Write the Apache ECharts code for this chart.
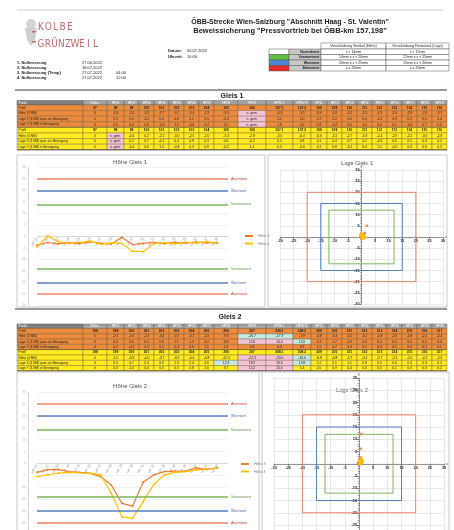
<!DOCTYPE html>
<html><head><meta charset="utf-8">
<script src="https://cdn.jsdelivr.net/npm/echarts@6/dist/echarts.min.js"></script>
<style>html,body{margin:0;padding:0;background:#fff}#c{width:454px;height:530px}</style>
</head><body><div id="c"></div>
<script>
// ================= DATA =================
const nullmessungen = [
  ['1. Nullmessung', '27.06.2022', ''],
  ['2. Nullmessung', '18.07.2022', ''],
  ['3. Nullmessung (Temp)', '27.07.2022', '04:00'],
  ['4. Nullmessung', '27.07.2022', '12:00']
];
const limitNames = ['Vorwarnwert', 'Warnwert', 'Alarmwert'];
const hoeheLimits = [14, 20, 25];
const lageLimits = [12, 15, 20];
const legendRowNames = ['Normalwert', 'Vorwarnwert', 'Warnwert', 'Alarmwert'];
const legendHoehe = ['x < 14mm', '14mm ≤ x < 20mm', '20mm ≤ x < 25mm', 'x ≥ 25mm'];
const legendLage = ['x < 12mm', '12mm ≤ x < 15mm', '15mm ≤ x < 20mm', 'x ≥ 20mm'];

// table Gleis 1
const g1Head = ['Nullm.','HP01','HP02','HP03','HP04','HP05','HP06','HP07','HP08','HP09','HP10 L','HP10 R','HP11','HP12','HP13','HP14','HP15','HP16','HP17','HP18','HP19'];
const g1Profil = ['97','98','99','100','101','102','103','104','105','106','107.1','107.2','108','109','110','111','112','113','114','115','116'];
const g1HoeheA = ['0','-3.8','-2.6','-3.2','-2.7','-3.1','-2.4','-2.9','-3.3','n. gem.','-0.3','-3.5','-3.0','-2.6','-3.1','-2.5','-2.9','-2.4','-2.8','-2.6','-2.7'];
const g1LageXA = ['0','0.3','0.6','-0.2','0.4','0.8','0.1','0.5','-0.3','n. gem.','1.2','2.0','0.7','0.2','0.6','0.4','-0.1','0.9','0.3','0.5','0.4'];
const g1LageYA = ['0','0.5','0.2','0.8','-0.3','1.2','-0.6','0.4','0.2','n. gem.','1.8','5.0','0.9','-0.2','0.6','1.0','0.3','0.1','-0.4','0.7','0.5'];
const g1HoeheB = ['0','n. gem.','-4.6','0.2','-2.2','-3.0','-2.5','-2.0','-3.4','-2.8','-3.0','-6.4','-6.6','-3.2','-2.7','-3.3','-2.4','-2.9','-2.2','-3.0','-2.8'];
const g1LageXB = ['0','n. gem.','0.2','0.7','-0.1','0.4','0.9','0.3','0.6','-0.2','0.5','0.8','0.1','0.4','0.7','0.2','-0.3','0.6','0.5','0.3','0.2'];
const g1LageYB = ['0','n. gem.','-0.4','0.6','1.0','-0.8','0.3','0.9','-0.2','1.4','0.5','-0.6','0.2','0.8','-0.1','0.4','1.1','-0.5','0.3','0.6','0.2'];

// table Gleis 2
const g2Head = ['Nullm.','HP21','HP22','HP23','HP24','HP25','HP26','HP27','HP28','HP29','HP30 L','HP30 R','HP31','HP32','HP33','HP34','HP35','HP36','HP37','HP38','HP39'];
const g2Profil = ['198','199','200','201','202','203','204','205','206','207','208.1','208.2','209','210','211','212','213','214','215','216','217'];
const g2HoeheA = ['0','-3.7','-2.6','-2.5','-3.4','-3.7','-4.1','-5.5','-9.0','-16.7','-17.9','-7.9','-4.8','-3.4','-3.2','-3.2','-1.8','-2.5','-1.8','-2.1','-2.4'];
const g2LageXA = ['0','0.4','0.6','0.3','0.8','1.1','1.9','3.2','6.8','15.8','16.4','12.6','4.1','1.7','0.9','0.6','0.4','0.5','0.3','0.2','0.4'];
const g2LageYA = ['0','0.2','-0.1','0.3','0.2','0.4','0.6','1.1','2.4','5.8','6.3','3.9','1.5','0.7','0.3','0.2','0.4','0.1','0.3','0.2','0.1'];
const g2HoeheB = ['0','-5.5','-4.8','-4.0','-3.7','-3.9','-4.0','-4.8','-12.5','-22.3','-23.0','-16.0','-8.8','-4.8','-3.7','-3.4','-2.7','-2.3','-2.0','-2.2','-2.6'];
const g2LageXB = ['0','0.5','0.7','0.4','0.9','1.3','2.4','4.6','12.3','18.9','19.4','13.8','5.2','2.1','1.1','0.8','0.5','0.6','0.4','0.3','0.5'];
const g2LageYB = ['0','0.3','-0.2','0.4','0.3','0.5','0.8','1.6','3.7','15.2','15.6','5.4','2.0','0.9','0.4','0.3','0.5','0.2','0.4','0.3','0.2'];

// charts
const pointsGleis1 = ['HP 01','HP 02','HP 03','HP 04','HP 05','HP 06','HP 07','HP 08','HP 09','HP 10','HP 11','HP 12','HP 13','HP 14','HP 15','HP 16','HP 17','HP 18',''];
const pointsGleis2 = ['HP 21','HP 22','HP 23','HP 24','HP 25','HP 26','HP 27','HP 28','HP 29','HP 30','HP 31','HP 32','HP 33','HP 34','HP 35','HP 36','HP 37','HP 38',''];
const hoehe3Gleis1 = [-3.8,-2.6,-3.2,-2.7,-3.1,-2.4,-2.9,-3.3,-0.3,-3.5,-3.0,-2.6,-3.1,-2.5,-2.9,-2.4,-2.8,-2.6];
const hoehe4Gleis1 = [-4.6,0.2,-2.2,-3.0,-2.5,-2.0,-3.4,-2.8,-3.0,-6.4,-6.6,-3.2,-2.7,-3.3,-2.4,-2.9,-2.2,-3.0];
const hoehe3Gleis2 = [-3.7,-2.6,-2.5,-3.4,-3.7,-4.1,-5.5,-9.0,-16.7,-17.9,-7.9,-4.8,-3.4,-3.2,-3.2,-1.8,-2.5,-1.8];
const hoehe4Gleis2 = [-5.5,-4.8,-4.0,-3.7,-3.9,-4.0,-4.8,-12.5,-22.3,-23.0,-16.0,-8.8,-4.8,-3.7,-3.4,-2.7,-2.3,-2.0];
const lage3Gleis1 = [[0.3,0.5],[0.6,0.2],[-0.2,0.8],[0.4,-0.3],[0.8,1.2],[0.1,-0.6],[0.5,0.4],[-0.3,0.2],[1.2,1.8],[2.0,5.0],[0.7,0.9],[0.2,-0.2],[0.6,0.6],[0.4,1.0],[-0.1,0.3],[0.9,0.1],[0.3,-0.4],[0.5,0.7]];
const lage4Gleis1 = [[0.2,-0.4],[0.7,0.6],[-0.1,1.0],[0.4,-0.8],[0.9,0.3],[0.3,0.9],[0.6,-0.2],[-0.2,1.4],[0.5,0.5],[0.8,-0.6],[0.1,0.2],[0.4,0.8],[0.7,-0.1],[0.2,0.4],[-0.3,1.1],[0.6,-0.5],[0.5,0.3],[0.3,0.6]];
const lage3Gleis2 = [[0.2,0.3],[0.5,0.6],[-0.3,0.2],[0.4,1.0],[0.8,1.6],[0.6,2.6],[0.6,6.1],[0.8,12.1],[0.3,2.0],[0.2,0.8],[0.5,0.4],[-0.2,0.5],[0.3,0.1],[0.6,0.7],[0.1,-0.3],[0.4,0.2],[0.7,0.5],[0.2,0.6]];
const lage4Gleis2 = [[0.4,0.5],[0.8,0.2],[0.3,1.2],[1.1,0.8],[0.6,1.5],[0.9,2.2],[1.3,1.0],[0.5,0.3],[0.2,0.9],[0.7,0.4],[1.0,1.3],[0.4,-0.2],[0.6,0.7],[0.3,0.3],[0.8,0.9],[0.5,1.1],[0.2,0.5],[0.9,0.6]];

// ================= STYLE / LAYOUT =================
const FONT = 'Liberation Sans, Arial, sans-serif';
const limitColors = ['#7cb95a', '#5b7fc7', '#f2846a'];
const limitTextColors = ['#5d9a3e', '#4a6bb0', '#d0402a'];
const C_OR = '#ed8a3c', C_YE = '#ffeb1f', C_PINK = '#f4c4d6', C_MINT = '#c5eadd';
const COLS = [17,83,107,124,139,154,169,184,199,214,238,266,293,311,327,342,357,372,387,402,417,432,447];

const G = [];
function rect(x,y,w,h,fill,stroke,lw){G.push({type:'rect',silent:true,shape:{x:x,y:y,width:w,height:h},style:{fill:fill||'transparent',stroke:stroke||'transparent',lineWidth:lw||0}});}
function line(x1,y1,x2,y2,stroke,lw){G.push({type:'line',silent:true,shape:{x1:x1,y1:y1,x2:x2,y2:y2},style:{stroke:stroke,lineWidth:lw}});}
function text(x,y,t,o){o=o||{};G.push({type:'text',silent:true,x:x,y:y,style:{text:t,fill:o.color||'#222',fontSize:o.size||4,fontWeight:o.weight||'normal',fontFamily:o.family||FONT,align:o.align||'left',verticalAlign:'middle'}});}

// faint header line
line(17,10,443,10,'#dedede',1.5);
// logo
G.push({type:'circle',silent:true,shape:{cx:31,cy:24,r:5},style:{fill:'#d4d4d4'}});
G.push({type:'polygon',silent:true,shape:{points:[[25,28],[37,28],[35,40],[31,46],[27,40]]},style:{fill:'#cfcfcf'}});
G.push({type:'rect',silent:true,shape:{x:32,y:31,width:4,height:1.5},style:{fill:'#c86a6a'}});
G.push({type:'rect',silent:true,shape:{x:32,y:41,width:4,height:1.5},style:{fill:'#c86a6a'}});
const logoFont = 'Liberation Sans Narrow, DejaVu Sans Condensed, sans-serif';
'KOLBE'.split('').forEach((ch,i)=>text(41+i*7.2,27,ch,{size:10,color:'#c66a6a',family:logoFont,align:'center'}));
'GRÜNZWEIL'.split('').forEach((ch,i)=>text(41+i*6.8,44,ch,{size:10,color:'#c66a6a',family:logoFont,align:'center'}));
// titles
text(290,22,'ÖBB-Strecke Wien-Salzburg "Abschnitt Haag - St. Valentin"',{size:7,weight:'bold',align:'center'});
text(290,31,'Beweissicherung "Pressvortrieb bei ÖBB-km 157.198"',{size:7.5,weight:'bold',align:'center'});
text(168,51,'Datum:',{size:4,weight:'bold'}); text(187,51,'06.07.2022',{size:4});
text(168,57,'Uhrzeit:',{size:4,weight:'bold'}); text(187,57,'10:00',{size:4});
nullmessungen.forEach((r,i)=>{const y=63+i*5; text(17,y,r[0],{size:4,weight:'bold'}); text(82,y,r[1],{size:4}); if(r[2]) text(116,y,r[2],{size:4});});

// legend table
const LT = {x0:269,x1:289,x2:321,x3:386,x4:449};
rect(LT.x2,43,LT.x3-LT.x2,6,'#fff','#555',0.5); rect(LT.x3,43,LT.x4-LT.x3,6,'#fff','#555',0.5);
text((LT.x2+LT.x3)/2,46,'Verschiebung Vertikal (Höhe)',{size:3.6,align:'center'});
text((LT.x3+LT.x4)/2,46,'Verschiebung Horizontal (Lage)',{size:3.6,align:'center'});
const swatch = ['#ffffff','#5fbf3f','#4a86d6','#e52a2a'];
legendRowNames.forEach((n,i)=>{
  const y=49+i*5.5;
  rect(LT.x0,y,LT.x1-LT.x0,5.5,swatch[i],'#555',0.5);
  rect(LT.x1,y,LT.x2-LT.x1,5.5,'#c9c9c9','#555',0.5);
  text(LT.x2-1.5,y+2.75,n,{size:3.5,align:'right',weight:'bold'});
  rect(LT.x2,y,LT.x3-LT.x2,5.5,'#fff','#555',0.5);
  rect(LT.x3,y,LT.x4-LT.x3,5.5,'#fff','#555',0.5);
  text((LT.x2+LT.x3)/2,y+2.75,legendHoehe[i],{size:3.5,align:'center'});
  text((LT.x3+LT.x4)/2,y+2.75,legendLage[i],{size:3.5,align:'center'});
});

// separators + section titles
line(15,90,447,90,'#9a9a9a',2);
text(232,96,'Gleis 1',{size:7,weight:'bold',align:'center'});
line(15,309,447,309,'#9a9a9a',2);
text(230,317.5,'Gleis 2',{size:7,weight:'bold',align:'center'});

function cellFill(v,kind,base){
  if(kind==='profil') return base;
  const n=parseFloat(v);
  if(isNaN(n)) return C_PINK;
  const l = kind==='hoehe'?hoeheLimits:lageLimits;
  const a=Math.abs(n);
  if(a>=l[1]) return C_PINK;
  if(a>=l[0]) return C_MINT;
  return base;
}
function drawTable(top,headH,rowH,head,sections){
  rect(COLS[0],top,COLS[1]-COLS[0],headH,'#7f7f7f','#555',0.5);
  text(COLS[0]+1.5,top+headH/2,'Punkt',{size:3.3,color:'#fff'});
  head.forEach((h,i)=>{const x=COLS[i+1],w=COLS[i+2]-x; rect(x,top,w,headH,'#a3a3a3','#666',0.5); text(x+w/2,top+headH/2,h,{size:3.1,color:'#fff',align:'center'});});
  let y=top+headH;
  sections.forEach(sec=>{
    sec.rows.forEach(r=>{
      rect(COLS[0],y,COLS[1]-COLS[0],rowH,sec.fill,'#6b5a3a',0.4);
      text(COLS[0]+1.5,y+rowH/2,r.label,{size:3.2});
      r.values.forEach((v,i)=>{const x=COLS[i+1],w=COLS[i+2]-x;
        rect(x,y,w,rowH,cellFill(v,r.kind,sec.fill),'#6b5a3a',0.4);
        text(x+w/2,y+rowH/2,v,{size:3.3,align:'center',weight:r.kind==='profil'?'bold':'normal'});});
      y+=rowH;
    });
    line(COLS[0],y,COLS[COLS.length-1],y,'#333',0.8);
  });
}
drawTable(100.5,4.5,5.6,g1Head,[
  {fill:C_OR,rows:[{label:'Profil',kind:'profil',values:g1Profil},{label:'Höhe (3.NM)',kind:'hoehe',values:g1HoeheA},{label:'Lage X (3.NM) quer zur Bewegung',kind:'lage',values:g1LageXA},{label:'Lage Y (3.NM) in Bewegung',kind:'lage',values:g1LageYA}]},
  {fill:C_YE,rows:[{label:'Profil',kind:'profil',values:g1Profil},{label:'Höhe (4.NM)',kind:'hoehe',values:g1HoeheB},{label:'Lage X (4.NM) quer zur Bewegung',kind:'lage',values:g1LageXB},{label:'Lage Y (4.NM) in Bewegung',kind:'lage',values:g1LageYB}]}
]);
drawTable(324,4.5,5.3,g2Head,[
  {fill:C_OR,rows:[{label:'Profil',kind:'profil',values:g2Profil},{label:'Höhe (3.NM)',kind:'hoehe',values:g2HoeheA},{label:'Lage X (3.NM) quer zur Bewegung',kind:'lage',values:g2LageXA},{label:'Lage Y (3.NM) in Bewegung',kind:'lage',values:g2LageYA}]},
  {fill:C_YE,rows:[{label:'Profil',kind:'profil',values:g2Profil},{label:'Höhe (4.NM)',kind:'hoehe',values:g2HoeheB},{label:'Lage X (4.NM) quer zur Bewegung',kind:'lage',values:g2LageXB},{label:'Lage Y (4.NM) in Bewegung',kind:'lage',values:g2LageYB}]}
]);

// chart panels
rect(17,155,248,152,'transparent','#c8c8c8',1);
rect(268,155,179,152,'transparent','#c8c8c8',1);
rect(17,372,242,170,'transparent','#c8c8c8',1);
rect(262,372,187,170,'transparent','#c8c8c8',1);
const titleFont = 'Lato, Open Sans, sans-serif';
text(130,162,'Höhe Gleis 1',{size:6,color:'#595959',family:titleFont,align:'center'});
text(357,163,'Lage Gleis 1',{size:6,color:'#595959',family:titleFont,align:'center'});
text(130,386,'Höhe Gleis 2',{size:6,color:'#595959',family:titleFont,align:'center'});
text(352,390,'Lage Gleis 2',{size:6,color:'#595959',family:titleFont,align:'center'});

// ================= CHART OPTION =================
const GRIDS = [
  {left:37,top:167.5,width:191,height:138},
  {left:280,top:170,width:163,height:134},
  {left:37,top:392,width:191,height:143},
  {left:274,top:378,width:170,height:171.5}
];
function limitMarkLines(limits){
  const d=[];
  limits.forEach((l,i)=>{[l,-l].forEach(v=>d.push({yAxis:v,lineStyle:{color:limitColors[i],width:1.6,type:'solid'},label:{show:true,position:'end',formatter:limitNames[i],color:limitTextColors[i],fontSize:3.6,distance:3}}));});
  return {silent:true,symbol:['none','none'],animation:false,data:d};
}
function limitRectSeries(limits,ai){
  const s=[];
  limits.forEach((l,i)=>{
    s.push({type:'line',xAxisIndex:ai,yAxisIndex:ai,data:[[-l,-l],[l,-l],[l,l],[-l,l],[-l,-l]],symbol:'none',lineStyle:{color:limitColors[i],width:1},silent:true,z:1});
    s.push({type:'scatter',xAxisIndex:ai,yAxisIndex:ai,data:[[l,l]],symbolSize:1,itemStyle:{opacity:0},silent:true,
      label:{show:true,position:'top',align:'right',distance:1,formatter:limitNames[i],fontSize:3.6,color:limitTextColors[i]}});
  });
  return s;
}
// category axis of the Höhe charts sits on the zero line (middle of the symmetric range)
function hoeheX(gi,data){return {type:'category',gridIndex:gi,data:data,boundaryGap:false,position:'bottom',offset:-GRIDS[gi].height/2,
  axisLine:{onZero:false,lineStyle:{color:'#d9d9d9'}},axisTick:{show:false},axisLabel:{rotate:60,fontSize:3.5,color:'#9a9a9a',margin:1,interval:0},splitLine:{show:false}};}
function hoeheY(gi){return {type:'value',gridIndex:gi,min:-30,max:30,interval:5,offset:9,axisLine:{show:true,lineStyle:{color:'#d0d0d0'}},axisTick:{show:false},axisLabel:{fontSize:3.4,color:'#bdbdbd',margin:2},splitLine:{lineStyle:{color:'#efefef',width:0.8}}};}
// Lage axes cross at the origin (middle of symmetric ranges)
function lageAxis(gi,min,max,name,isX){
  const off = isX ? -GRIDS[gi].height/2 : -GRIDS[gi].width/2;
  return {type:'value',gridIndex:gi,min:min,max:max,interval:5,name:name,nameGap:2,nameTextStyle:{fontSize:4,color:'#555'},
  position:isX?'bottom':'left',offset:off,
  axisLine:{onZero:false,lineStyle:{color:'#7a7a7a',width:0.8}},axisTick:{show:true,length:2,lineStyle:{color:'#7a7a7a'}},
  minorTick:{show:true,splitNumber:5,length:1.3,lineStyle:{color:'#9a9a9a'}},
  axisLabel:{fontSize:3.8,fontWeight:'bold',color:'#222',margin:2,formatter:v=>v===0?'':String(v)},
  splitLine:{lineStyle:{color:'#e2e2e2',width:0.8}}};}
function hoeheSeries(gi,s3,s4){
  return [
    {name:'Höhe 3',type:'line',xAxisIndex:gi,yAxisIndex:gi,data:s3,symbol:'circle',symbolSize:2,lineStyle:{color:'#ed7d31',width:1.2},itemStyle:{color:'#ed7d31'},z:3,markLine:limitMarkLines(hoeheLimits)},
    {name:'Höhe 4',type:'line',xAxisIndex:gi,yAxisIndex:gi,data:s4,symbol:'circle',symbolSize:2,lineStyle:{color:'#ffc000',width:1.2},itemStyle:{color:'#ffc000'},z:4}
  ];
}
function lageSeries(ai,s3,s4){
  return [
    {name:'Lage 3',type:'scatter',xAxisIndex:ai,yAxisIndex:ai,data:s3,symbolSize:3,itemStyle:{color:'#ed7d31'},z:5},
    {name:'Lage 4',type:'scatter',xAxisIndex:ai,yAxisIndex:ai,data:s4,symbolSize:3,itemStyle:{color:'#ffc000'},z:6}
  ];
}
const legendBase = {data:['Höhe 3','Höhe 4'],orient:'vertical',itemWidth:8,itemHeight:2,itemGap:3.5,icon:'rect',textStyle:{fontSize:3.6,color:'#777'},selectedMode:false};

const option = {
  animation:false,
  backgroundColor:'#ffffff',
  textStyle:{fontFamily:FONT},
  grid:GRIDS.map(g=>Object.assign({outerBoundsMode:'none',containLabel:false},g)),
  legend:[Object.assign({left:240,top:229},legendBase),Object.assign({left:236,top:457},legendBase)],
  xAxis:[hoeheX(0,pointsGleis1),lageAxis(1,-30,30,'x',true),hoeheX(2,pointsGleis2),lageAxis(3,-30,30,'x',true)],
  yAxis:[hoeheY(0),lageAxis(1,-30,30,'y',false),hoeheY(2),lageAxis(3,-35,35,'y',false)],
  graphic:{elements:G},
  series:[].concat(
    hoeheSeries(0,hoehe3Gleis1,hoehe4Gleis1),
    limitRectSeries(lageLimits,1),
    lageSeries(1,lage3Gleis1,lage4Gleis1),
    hoeheSeries(2,hoehe3Gleis2,hoehe4Gleis2),
    limitRectSeries(lageLimits,3),
    lageSeries(3,lage3Gleis2,lage4Gleis2)
  )
};
const chart = echarts.init(document.getElementById('c'),null,{renderer:'canvas',width:454,height:530});
chart.setOption(option);
</script>
</body></html>
